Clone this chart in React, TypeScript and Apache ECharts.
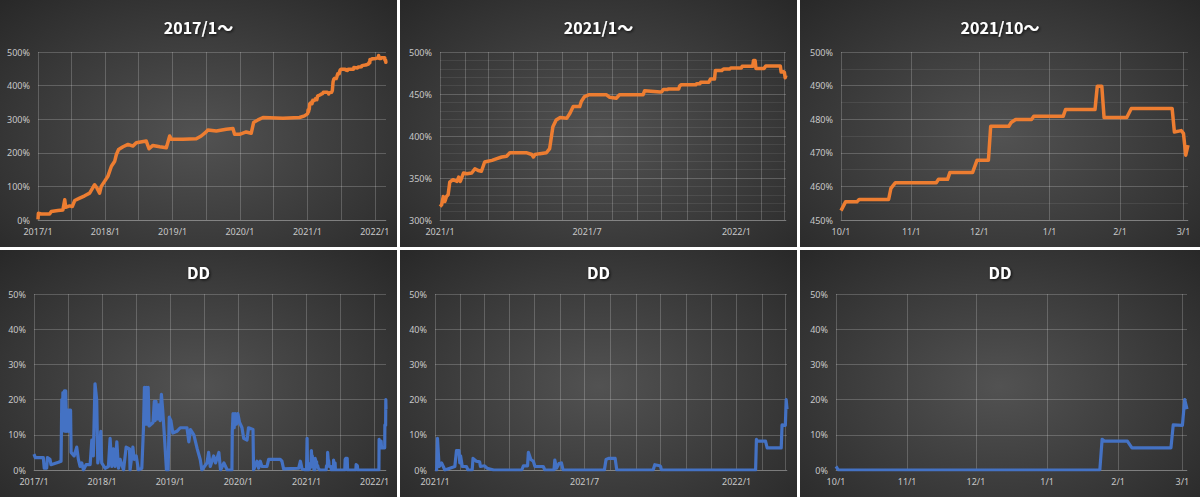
import React, { useEffect, useRef } from 'react';
import * as echarts from 'echarts';

// ---------- data ----------
const equityDates = [
  '2017-01-01','2017-01-03','2017-01-19','2017-03-05','2017-03-14','2017-04-19','2017-05-16','2017-05-26','2017-05-31','2017-06-22',
  '2017-07-06','2017-07-19','2017-08-15','2017-09-11','2017-10-08','2017-11-04','2017-11-17','2017-12-01','2017-12-10','2017-12-28',
  '2018-01-15','2018-02-03','2018-02-21','2018-03-02','2018-03-14','2018-04-07','2018-05-04','2018-05-31','2018-06-18','2018-08-11',
  '2018-08-26','2018-09-16','2018-10-23','2018-11-28','2018-12-16','2018-12-25',
  '2019-02-26','2019-05-09','2019-06-05','2019-07-02','2019-07-11','2019-08-26','2019-10-19','2019-11-24','2019-12-03','2019-12-30',
  '2020-02-04','2020-03-02','2020-03-15','2020-04-08','2020-05-05','2020-08-21','2020-11-19','2020-12-16',
  '2021-01-01','2021-01-03','2021-01-05','2021-01-07','2021-01-09','2021-01-11','2021-01-13','2021-01-17','2021-01-22','2021-01-24',
  '2021-01-26','2021-01-30','2021-02-03','2021-02-09','2021-02-13','2021-02-17','2021-02-21','2021-02-25','2021-03-01','2021-03-06',
  '2021-03-12','2021-03-18','2021-03-24','2021-03-28','2021-04-18','2021-04-24','2021-04-26','2021-04-28','2021-05-04','2021-05-12',
  '2021-05-16','2021-05-20','2021-05-24','2021-05-29','2021-06-06','2021-06-10','2021-06-14','2021-06-22','2021-06-24','2021-06-28',
  '2021-07-03','2021-07-25','2021-07-29','2021-08-06','2021-08-10','2021-09-08','2021-09-10','2021-09-29',
  '2021-10-01','2021-10-03','2021-10-08','2021-10-09','2021-10-22','2021-10-23','2021-10-25','2021-11-12','2021-11-13','2021-11-17',
  '2021-11-18','2021-11-28','2021-11-30','2021-12-05','2021-12-06','2021-12-14','2021-12-15','2021-12-17','2021-12-24','2021-12-25',
  '2022-01-07','2022-01-08','2022-01-21','2022-01-22','2022-01-24','2022-01-25','2022-02-04','2022-02-06','2022-02-24','2022-02-25',
  '2022-02-28','2022-03-01','2022-03-02','2022-03-03',
];
const equityValues = [
  2,20,18,18,25,28,30,60,38,42,
  40,58,65,72,80,105,95,80,100,115,
  130,160,175,195,210,218,225,220,230,235,
  212,222,218,215,250,240,
  240,242,250,262,268,265,270,272,255,255,
  262,258,290,298,305,303,305,310,
  316,318,328,322,328,330,345,348,346,351,
  346,356,355,356,361,359,358,369,370,371,
  373,375,376,380,380,378,375,378,379,380,
  385,411,419,422,421,427,435,435,441,447,
  449,449,446,445,449,449,454,452.5,
  452.8,455.4,455.4,456.1,456.1,459.4,461.1,461.1,462.1,462.1,
  464.1,464.1,467.8,467.8,477.9,477.9,479.0,479.9,479.9,480.9,
  480.9,482.9,482.9,489.8,489.8,480.5,480.5,483.2,483.2,476.2,
  476.6,475.8,469.3,472.3,
];

const ddDates = [
  // 2017
  '2017-01-01','2017-01-08','2017-02-20','2017-02-25','2017-03-10','2017-03-14','2017-03-28','2017-04-02','2017-05-12','2017-05-26',
  '2017-05-30','2017-06-02','2017-06-05','2017-06-09','2017-06-13','2017-06-17','2017-06-20','2017-06-25','2017-07-01','2017-07-05',
  '2017-07-09','2017-07-13','2017-07-16','2017-07-19','2017-08-04','2017-08-18','2017-08-27','2017-09-05','2017-09-14','2017-09-23',
  '2017-10-07','2017-10-29','2017-11-07','2017-11-15','2017-11-24','2017-12-03','2017-12-09','2017-12-18','2017-12-25','2017-12-30',
  // 2018
  '2018-01-17','2018-02-04','2018-02-13','2018-02-22','2018-03-03','2018-03-12','2018-03-21','2018-03-30','2018-04-08','2018-04-26',
  '2018-05-10','2018-05-28','2018-05-31','2018-06-15','2018-06-22','2018-07-03','2018-07-15','2018-08-02','2018-08-11','2018-08-16',
  '2018-08-21','2018-08-26','2018-08-31','2018-09-05','2018-09-10','2018-10-01','2018-10-08','2018-10-12','2018-10-17','2018-10-24',
  '2018-11-01','2018-11-08','2018-11-15','2018-11-22','2018-12-03','2018-12-12','2018-12-21','2018-12-27',
  // 2019
  '2019-01-05','2019-01-15','2019-02-06','2019-02-24','2019-04-01','2019-04-11','2019-04-20','2019-05-08','2019-05-26','2019-06-11',
  '2019-06-20','2019-07-17','2019-07-26','2019-08-04','2019-08-22','2019-09-01','2019-09-19','2019-09-28','2019-10-16','2019-11-03',
  '2019-11-28','2019-11-30','2019-12-04','2019-12-10','2019-12-16','2019-12-22','2019-12-30',
  // 2020
  '2020-01-08','2020-01-21','2020-01-30','2020-02-17','2020-02-25','2020-03-20','2020-03-23','2020-04-10','2020-04-19','2020-04-28',
  '2020-05-07','2020-06-03','2020-06-12','2020-08-13','2020-08-22','2020-08-31','2020-11-20','2020-11-29','2020-12-08','2020-12-26',
  // 2021
  '2021-01-01','2021-01-03','2021-01-04','2021-01-06','2021-01-09','2021-01-11','2021-01-13','2021-01-25','2021-01-27','2021-01-30',
  '2021-01-31','2021-02-01','2021-02-03','2021-02-08','2021-02-10','2021-02-15','2021-02-16','2021-02-20','2021-02-24','2021-02-25',
  '2021-03-02','2021-03-05','2021-03-13','2021-04-16','2021-04-18','2021-04-23','2021-04-24','2021-04-27','2021-04-30','2021-05-02',
  '2021-05-12','2021-05-14','2021-05-25','2021-05-26','2021-05-28','2021-05-31','2021-06-03','2021-06-05','2021-07-25','2021-07-27',
  '2021-07-30','2021-08-07','2021-08-09','2021-09-22','2021-09-24','2021-09-30',
  '2021-10-01','2021-10-02','2022-01-24','2022-01-25','2022-01-26','2022-02-05','2022-02-07','2022-02-24','2022-02-25','2022-03-01',
  '2022-03-02','2022-03-03',
];
const ddValues = [
  // 2017
  4.5,3.5,3.5,0.5,0.5,3.5,3,1.5,2.2,2.5,
  20,11,22,12,22.5,11,22.5,11,17,11,
  17,12,17,5,4,6.5,3,1,2,0,
  1.5,1.5,8.5,4,24.5,20,2,5,11,2,
  // 2018
  0.5,1,9,1,6,1,8,0.5,3,0,
  6.5,6,0,6.5,3,4,0,0.5,12,23.5,
  13,23.5,13,23.5,12.5,13.5,19.5,14,19.5,14.5,
  18.5,14,21.5,17,8,0,0,15,
  // 2019
  14,10.5,11,12,12,8,11.5,10,6,3,
  0,2,5,1,4,2,5,0,2,0,
  0,11,16,12,16,13,16,
  // 2020
  13.5,12,9,8.5,12,11.5,0,2.5,0.5,2.5,
  1,1,3,3,2.5,0.3,0.5,2.5,0.3,0,
  // 2021
  0,0,9,1,2,1,0,1,5.5,5.5,
  2,4,1,1,0,0,3.3,2.5,2.3,1,
  1.2,0.5,0,0,1.2,1.2,5,3,2.5,1,
  1,0,0,2.8,0.5,1.8,2,0,0,3,
  3.3,3.3,0,0,1.5,1.2,
  1.0,0,0,8.7,8.2,8.2,6.3,6.3,12.8,12.7,
  20,17.3,
];

const END_DATE = '2022-03-03';

// ---------- helpers ----------
const BASE = Date.UTC(2017, 0, 1);
const DAY = 86400000;
const dn = (s: string) => {
  const [y, m, d] = s.split('-').map(Number);
  return (Date.UTC(y, m - 1, d) - BASE) / DAY;
};
const monthTicks = (start: string, step: number) => {
  const [y0, m0] = start.split('-').map(Number);
  const endV = dn(END_DATE);
  const out: number[] = [];
  for (let k = 0; ; k += step) {
    const t = (Date.UTC(y0, m0 - 1 + k, 1) - BASE) / DAY;
    if (t > endV) break;
    out.push(t);
  }
  return out;
};
const toDate = (v: number) => new Date(BASE + Math.round(v) * DAY);
const fmtYM = (v: number) => {
  const d = toDate(v);
  return `${d.getUTCFullYear()}/${d.getUTCMonth() + 1}`;
};
const fmtMD = (v: number) => {
  const d = toDate(v);
  return `${d.getUTCMonth() + 1}/${d.getUTCDate()}`;
};

const BG = 'radial-gradient(ellipse 75% 80% at 50% 55%, #525252 0%, #3a3a3a 55%, #262626 100%)';
const GRID_MAJOR = 'rgba(255,255,255,0.2)';
const GRID_MINOR = 'rgba(255,255,255,0.08)';
const LABEL_COLOR = '#c8c8c8';
const FONT = '"Noto Sans", "Noto Sans CJK JP", sans-serif';

type Cfg = {
  left: number; top: number; w: number; h: number;
  title: string; titleTop: number; kind: 'eq' | 'dd';
  start: string; yMin: number; yMax: number; yInt: number; minor: number;
  grid: { left: number; right: number; top: number; bottom: number };
  gridStep: number; labelStep: number; fmt: (v: number) => string;
};

const panels: Cfg[] = [
  { left: 0, top: 0, w: 397, h: 247, title: '2017/1～', titleTop: 14, kind: 'eq', start: '2017-01-01',
    yMin: 0, yMax: 500, yInt: 100, minor: 0, grid: { left: 38, right: 11, top: 52, bottom: 27 },
    gridStep: 6, labelStep: 12, fmt: fmtYM },
  { left: 400, top: 0, w: 397, h: 247, title: '2021/1～', titleTop: 14, kind: 'eq', start: '2021-01-01',
    yMin: 300, yMax: 500, yInt: 50, minor: 5, grid: { left: 40, right: 11, top: 52, bottom: 27 },
    gridStep: 1, labelStep: 6, fmt: fmtYM },
  { left: 800, top: 0, w: 400, h: 247, title: '2021/10～', titleTop: 14, kind: 'eq', start: '2021-10-01',
    yMin: 450, yMax: 500, yInt: 10, minor: 2, grid: { left: 41, right: 12, top: 52, bottom: 27 },
    gridStep: 1, labelStep: 1, fmt: fmtMD },
  { left: 0, top: 250, w: 397, h: 247, title: 'DD', titleTop: 9, kind: 'dd', start: '2017-01-01',
    yMin: 0, yMax: 50, yInt: 10, minor: 0, grid: { left: 34, right: 11, top: 44, bottom: 27 },
    gridStep: 6, labelStep: 12, fmt: fmtYM },
  { left: 400, top: 250, w: 397, h: 247, title: 'DD', titleTop: 9, kind: 'dd', start: '2021-01-01',
    yMin: 0, yMax: 50, yInt: 10, minor: 0, grid: { left: 35, right: 10, top: 44, bottom: 27 },
    gridStep: 1, labelStep: 6, fmt: fmtYM },
  { left: 800, top: 250, w: 400, h: 247, title: 'DD', titleTop: 9, kind: 'dd', start: '2021-10-01',
    yMin: 0, yMax: 50, yInt: 10, minor: 0, grid: { left: 36, right: 13, top: 44, bottom: 27 },
    gridStep: 1, labelStep: 1, fmt: fmtMD },
];

function buildOption(c: Cfg) {
  const dates = c.kind === 'eq' ? equityDates : ddDates;
  const vals = c.kind === 'eq' ? equityValues : ddValues;
  const s0 = dn(c.start);
  const data: [number, number][] = [];
  dates.forEach((d, i) => {
    const x = dn(d);
    if (x >= s0) data.push([x, vals[i]]);
  });
  const color = c.kind === 'eq' ? '#ED7D31' : '#4472C4';
  return {
    animation: false,
    title: {
      text: c.title,
      left: 'center',
      top: c.titleTop,
      textStyle: {
        color: '#ffffff', fontSize: 16, fontWeight: 'bold', fontFamily: '"Noto Sans CJK JP", sans-serif',
        textShadowColor: 'rgba(0,0,0,0.8)', textShadowBlur: 3, textShadowOffsetX: 1, textShadowOffsetY: 1,
      },
    },
    grid: { ...c.grid, containLabel: false },
    xAxis: {
      type: 'value',
      min: s0,
      max: dn(END_DATE),
      axisLine: { show: true, lineStyle: { color: GRID_MAJOR, width: 1 } },
      axisTick: { show: false, customValues: monthTicks(c.start, c.gridStep) },
      splitLine: { show: true, lineStyle: { color: GRID_MAJOR, width: 1 } },
      axisLabel: {
        customValues: monthTicks(c.start, c.labelStep),
        formatter: (v: number) => c.fmt(v),
        color: LABEL_COLOR, fontSize: 9, fontFamily: FONT, margin: 7,
      },
    },
    yAxis: {
      type: 'value',
      min: c.yMin, max: c.yMax, interval: c.yInt,
      axisLine: { show: false },
      axisTick: { show: false },
      splitLine: { show: true, lineStyle: { color: GRID_MAJOR, width: 1 } },
      minorTick: { show: false, splitNumber: c.minor || 5 },
      minorSplitLine: { show: c.minor > 0, lineStyle: { color: GRID_MINOR, width: 1 } },
      axisLabel: {
        formatter: (v: number) => `${v}%`,
        color: LABEL_COLOR, fontSize: 9, fontFamily: FONT, margin: 8,
      },
    },
    series: [
      {
        type: 'line',
        data,
        showSymbol: false,
        symbol: 'none',
        lineStyle: { color, width: c.kind === 'eq' ? 3.5 : 3.2, join: 'round' },
        itemStyle: { color },
      },
    ],
  };
}

function Panel({ cfg }: { cfg: Cfg }) {
  const ref = useRef<HTMLDivElement>(null);
  useEffect(() => {
    if (!ref.current) return;
    const chart = echarts.init(ref.current, null, { renderer: 'svg' });
    chart.setOption(buildOption(cfg) as any);
    return () => chart.dispose();
  }, [cfg]);
  return (
    <div
      ref={ref}
      style={{ position: 'absolute', left: cfg.left, top: cfg.top, width: cfg.w, height: cfg.h, background: BG }}
    />
  );
}

export default function App() {
  return (
    <div style={{ position: 'absolute', left: 0, top: 0, width: 1200, height: 497, background: '#ffffff', overflow: 'hidden' }}>
      {panels.map((p, i) => (
        <Panel key={i} cfg={p} />
      ))}
    </div>
  );
}
